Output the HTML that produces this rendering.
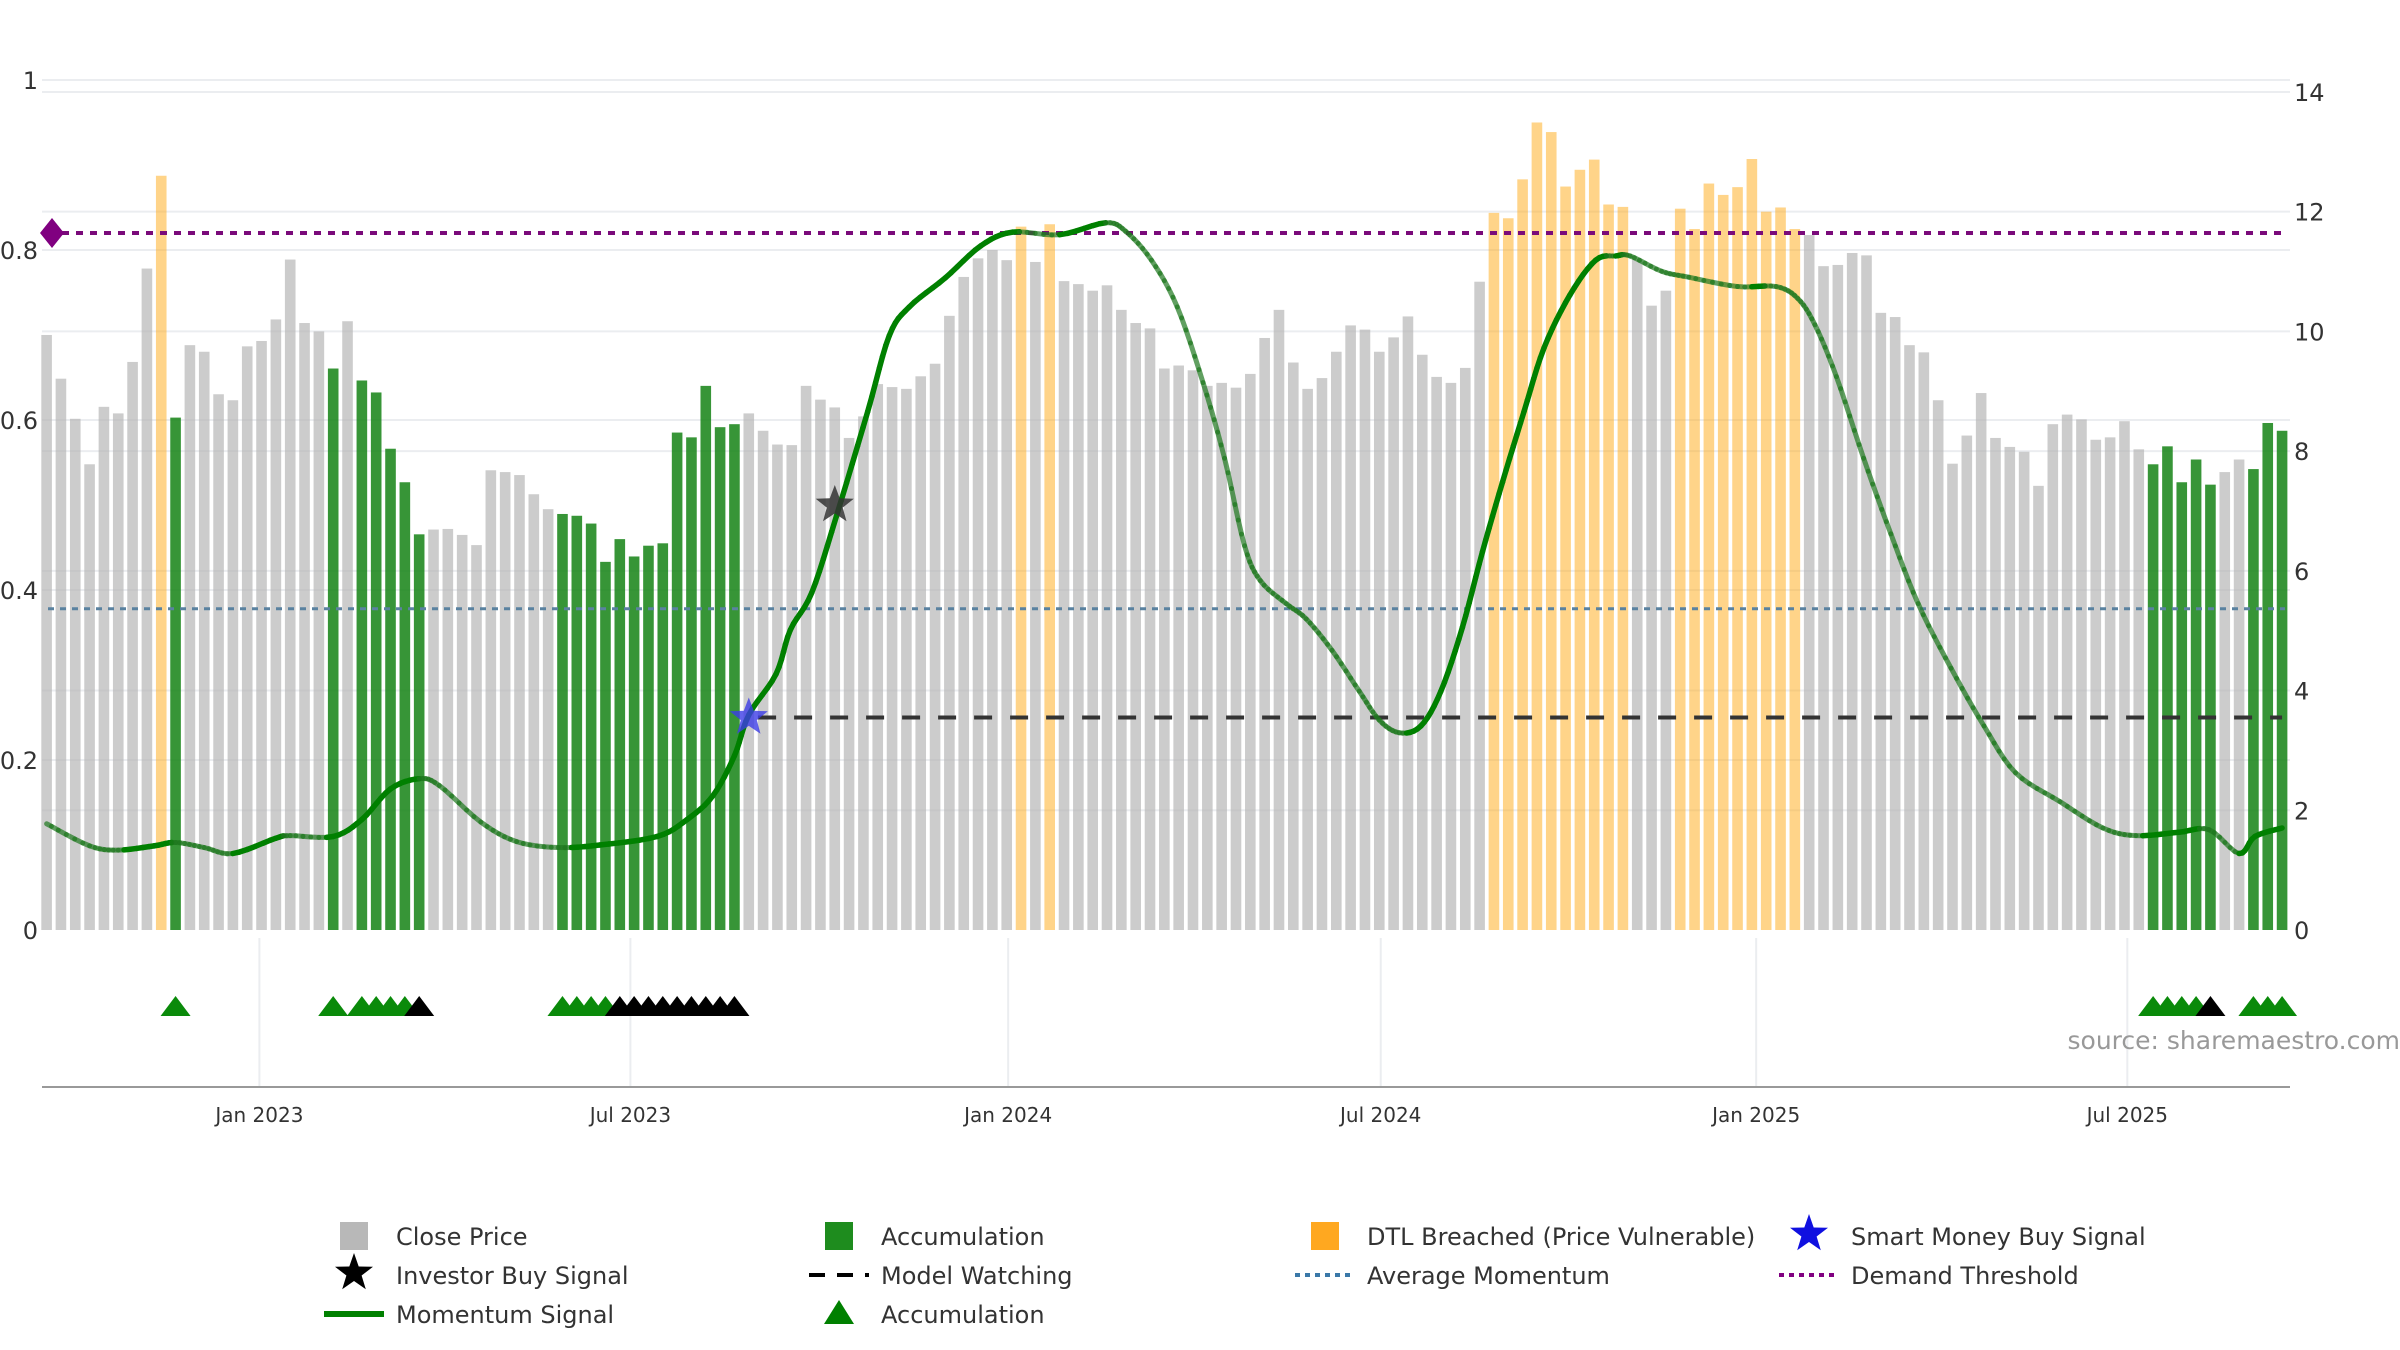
<!DOCTYPE html>
<html><head><meta charset="utf-8">
<style>
html,body{margin:0;padding:0;background:#fff;}
svg{display:block;font-family:"DejaVu Sans","Liberation Sans",sans-serif;}
</style></head>
<body>
<svg id="chart" width="2400" height="1350" viewBox="0 0 2400 1350" xmlns="http://www.w3.org/2000/svg">
<g id="grid"></g>
<g id="bars"></g>
<g id="lines"></g>
<g id="mom"></g>
<g id="marks"></g>
<g id="axes"></g>
<g id="lower"></g>
<text x="2400" y="1049" text-anchor="end" font-size="25" fill="#999">source: sharemaestro.com</text>
<g id="legend"></g>
</svg>
<script>
const closes=[9.94,9.21,8.54,7.78,8.74,8.63,9.49,11.05,12.6,8.56,
9.77,9.66,8.95,8.85,9.75,9.84,10.2,11.2,10.14,10.0,
9.38,10.17,9.18,8.98,8.04,7.48,6.61,6.69,6.70,6.6,
6.43,7.68,7.65,7.6,7.28,7.03,6.95,6.92,6.79,6.15,
6.53,6.24,6.42,6.46,8.31,8.23,9.09,8.4,8.45,8.63,
8.34,8.11,8.1,9.09,8.86,8.73,8.22,8.58,9.12,9.07,
9.04,9.25,9.46,10.26,10.91,11.22,11.36,11.19,11.75,11.16,
11.79,10.84,10.79,10.68,10.77,10.36,10.14,10.05,9.38,9.43,
9.35,9.09,9.14,9.06,9.29,9.89,10.36,9.48,9.04,9.22,
9.66,10.1,10.03,9.66,9.9,10.25,9.61,9.24,9.14,9.39,
10.83,11.98,11.89,12.54,13.49,13.33,12.42,12.7,12.87,12.12,
12.08,11.2,10.43,10.68,12.05,11.71,12.47,12.28,12.41,12.88,
12.0,12.07,11.71,11.61,11.09,11.11,11.31,11.27,10.31,10.24,
9.77,9.65,8.85,7.79,8.26,8.97,8.22,8.07,7.99,7.42,
8.45,8.61,8.53,8.19,8.23,8.5,8.03,7.78,8.08,7.48,
7.86,7.44,7.65,7.86,7.7,8.47,8.34];
const accumIdx=[9,20,22,23,24,25,26,36,37,38,39,40,41,42,43,44,45,46,47,48,147,148,149,150,151,154,155,156];
const dtlIdx=[8,68,70,101,102,103,104,105,106,107,108,109,110,114,115,116,117,118,119,120,121,122];
const momIdx=[0,3,5,7.5,9,11,13,16,17,20,22,24,26,27.4,30.3,32.8,35.7,38.6,42.6,44.7,46.5,48,49,50.9,51.9,53.4,55.1,57.3,58.8,60.2,62.7,65.2,67.4,70.7,73.9,75.3,77.1,78.9,80.7,82.2,83.6,84.7,86.5,87.9,89.7,91.6,93,94.4,95.9,97.3,98.8,100.2,101.6,103.1,104.5,106.3,108.1,109.5,110.5,112.7,114.6,118,120.7,122.2,123.4,124.9,126.8,128.7,130.6,132.9,135.2,137.4,140.5,143.5,145.8,148.8,150.9,153,154.1,156];
const momVal=[0.125,0.099,0.094,0.099,0.103,0.097,0.090,0.108,0.111,0.110,0.130,0.166,0.178,0.170,0.127,0.104,0.097,0.100,0.110,0.130,0.158,0.205,0.253,0.301,0.353,0.397,0.486,0.61,0.699,0.733,0.767,0.805,0.821,0.818,0.832,0.822,0.788,0.733,0.644,0.555,0.452,0.411,0.384,0.366,0.329,0.281,0.247,0.232,0.24,0.281,0.356,0.445,0.527,0.61,0.685,0.747,0.788,0.793,0.793,0.775,0.768,0.757,0.757,0.743,0.712,0.651,0.555,0.466,0.384,0.308,0.24,0.185,0.151,0.12,0.111,0.115,0.118,0.09,0.11,0.12];
const demandThreshold=0.82, avgMomentum=0.378, watchLevel=0.25;
const watchStart=50, watchEnd=156;
const smartIdx=[49], smartVal=[0.25];
const investorIdx=[55], investorVal=[0.5];
const greenTri=[9,20,22,23,24,25,36,37,38,39,147,148,149,150,154,155,156];
const blackTri=[26,40,41,42,43,44,45,46,47,48,151];
const leftTicks=[0,0.2,0.4,0.6,0.8,1];
const leftTickLabels=["0","0.2","0.4","0.6","0.8","1"];
const rightTicks=[0,2,4,6,8,10,12,14];
const dateTickIdx=[14.85,40.74,67.1,93.1,119.3,145.2];
const dateTickLabels=["Jan 2023","Jul 2023","Jan 2024","Jul 2024","Jan 2025","Jul 2025"];

const NS="http://www.w3.org/2000/svg";
const X=i=>46.6+i*14.33;
const YL=v=>930-850*v;
const YR=v=>930-v*59.86;
function mk(tag,attrs,parent){const e=document.createElementNS(NS,tag);for(const k in attrs)e.setAttribute(k,attrs[k]);document.getElementById(parent).appendChild(e);return e;}

// grid
leftTicks.forEach(t=>{if(t>0){const l=mk('line',{x1:42,x2:2290,y1:YL(t),y2:YL(t),stroke:'#ebedf0','stroke-width':2},'grid');

}});
rightTicks.forEach(t=>{if(t>0){const l=mk('line',{x1:42,x2:2290,y1:YR(t),y2:YR(t),stroke:'#ebedf0','stroke-width':2},'grid');

}});

// bars
closes.forEach((v,i)=>{
  let fill='rgba(180,180,180,0.68)',nm='close-price-bar';
  if(accumIdx.includes(i)){fill='rgba(20,130,20,0.85)';nm='accumulation-bar';}
  else if(dtlIdx.includes(i)){fill='rgba(255,170,20,0.5)';nm='dtl-breached-bar';}
  const r=mk('rect',{x:X(i)-5.3,y:YR(v),width:10.6,height:930-YR(v),fill:fill},'bars');
  
  
});

// reference lines
let l1=mk('line',{x1:48,x2:2285,y1:YL(demandThreshold),y2:YL(demandThreshold),stroke:'#7a0a7a','stroke-width':4,'stroke-dasharray':'7 7'},'lines');


let dm=mk('polygon',{points:`${52},${YL(demandThreshold)-15} ${64},${YL(demandThreshold)} ${52},${YL(demandThreshold)+15} ${40},${YL(demandThreshold)}`,fill:'#800080'},'lines');


let l2=mk('line',{x1:48,x2:2285,y1:YL(avgMomentum),y2:YL(avgMomentum),stroke:'#5a82a0','stroke-width':3,'stroke-dasharray':'6 6'},'lines');


let l3=mk('line',{x1:X(watchStart)-5,x2:X(watchEnd),y1:YL(watchLevel),y2:YL(watchLevel),stroke:'#333','stroke-width':4,'stroke-dasharray':'18 18'},'lines');



// momentum smooth line
const pts=momIdx.map((t,k)=>[X(t),YL(momVal[k])]);
const dense=[];
for(let k=0;k<pts.length-1;k++){
  const p0=pts[Math.max(k-1,0)],p1=pts[k],p2=pts[k+1],p3=pts[Math.min(k+2,pts.length-1)];
  for(let s=0;s<6;s++){const t=s/6,t2=t*t,t3=t2*t;
    dense.push([0.5*((2*p1[0])+(-p0[0]+p2[0])*t+(2*p0[0]-5*p1[0]+4*p2[0]-p3[0])*t2+(-p0[0]+3*p1[0]-3*p2[0]+p3[0])*t3),
                0.5*((2*p1[1])+(-p0[1]+p2[1])*t+(2*p0[1]-5*p1[1]+4*p2[1]-p3[1])*t2+(-p0[1]+3*p1[1]-3*p2[1]+p3[1])*t3)]);}
}
dense.push(pts[pts.length-1]);
for(let k=0;k<dense.length-1;k++){
  const rising=dense[k+1][1]<dense[k][1]-0.3;
  const s=mk('line',{x1:dense[k][0],y1:dense[k][1],x2:dense[k+1][0],y2:dense[k+1][1],stroke:rising?'#008000':'rgba(30,120,30,0.7)','stroke-width':rising?5.5:5,'stroke-linecap':'round'},'mom');
  
  
}

function star(cx,cy,R,fill,name){
  let p=[];for(let k=0;k<10;k++){const r=k%2?R*0.42:R;const a=-Math.PI/2+k*Math.PI/5;p.push((cx+r*Math.cos(a)).toFixed(1)+','+(cy+r*Math.sin(a)).toFixed(1));}
  const e=mk('polygon',{points:p.join(' '),fill:fill},'marks');
  return e;
}
smartIdx.forEach((t,k)=>{const e=star(X(t),YL(smartVal[k]),20,'rgba(60,60,230,0.8)');

});
investorIdx.forEach((t,k)=>{const e=star(X(t),YL(investorVal[k]),20,'rgba(50,50,50,0.85)');

});

// axes labels
leftTicks.forEach((t,k)=>{const e=mk('text',{x:38,y:YL(t)+9,'text-anchor':'end','font-size':24,fill:'#333'},'axes');e.textContent=leftTickLabels[k];

});
rightTicks.forEach(t=>{const e=mk('text',{x:2294,y:YR(t)+9,'font-size':24,fill:'#333'},'axes');e.textContent=String(t);

});

// lower panel
dateTickIdx.forEach((t,k)=>{
  const g=mk('line',{x1:X(t),x2:X(t),y1:938,y2:1086,stroke:'#ebedf0','stroke-width':2},'lower');
  
  
  const e=mk('text',{x:X(t),y:1122,'text-anchor':'middle','font-size':20,fill:'#333'},'lower');e.textContent=dateTickLabels[k];
  
  
});
const ax=mk('line',{x1:42,x2:2290,y1:1087,y2:1087,stroke:'#999','stroke-width':2},'lower');


function tri(t,fill){return mk('polygon',{points:`${X(t)},${996} ${X(t)-15},${1016} ${X(t)+15},${1016}`,fill:fill},'lower');}
greenTri.forEach(t=>{const e=tri(t,'#0a8a0a');

});
blackTri.forEach(t=>{const e=tri(t,'#000');

});

// legend
const L=document.getElementById('legend');
function ltext(x,y,s,name){const e=mk('text',{x:x,y:y+9,'font-size':24,fill:'#333'},'legend');e.textContent=s;

}
const r1=1236,r2=1275,r3=1314,c=[354,839,1325,1809],tx=[396,881,1367,1851];
let e;
e=mk('rect',{x:c[0]-14,y:r1-14,width:28,height:28,fill:'#b8b8b8'},'legend');
ltext(tx[0],r1,'Close Price','legend-close-price');
e=mk('rect',{x:c[1]-14,y:r1-14,width:28,height:28,fill:'#1e8c1e'},'legend');
ltext(tx[1],r1,'Accumulation','legend-accumulation');
e=mk('rect',{x:c[2]-14,y:r1-14,width:28,height:28,fill:'#ffa820'},'legend');
ltext(tx[2],r1,'DTL Breached (Price Vulnerable)','legend-dtl-breached');
function lstar(cx,cy,fill){let p=[];for(let k=0;k<10;k++){const r=k%2?8:20;const a=-Math.PI/2+k*Math.PI/5;p.push((cx+r*Math.cos(a)).toFixed(1)+','+(cy+r*Math.sin(a)).toFixed(1));}return mk('polygon',{points:p.join(' '),fill:fill},'legend');}
e=lstar(c[3],r1-2,'#1010e0');
ltext(tx[3],r1,'Smart Money Buy Signal','legend-smart-money');
e=lstar(c[0],r2-2,'#000');
ltext(tx[0],r2,'Investor Buy Signal','legend-investor-buy');
e=mk('line',{x1:c[1]-30,x2:c[1]+30,y1:r2,y2:r2,stroke:'#000','stroke-width':4,'stroke-dasharray':'16 12'},'legend');
ltext(tx[1],r2,'Model Watching','legend-model-watching');
e=mk('line',{x1:c[2]-30,x2:c[2]+30,y1:r2,y2:r2,stroke:'#3a78a8','stroke-width':4,'stroke-dasharray':'5 5'},'legend');
ltext(tx[2],r2,'Average Momentum','legend-average-momentum');
e=mk('line',{x1:c[3]-30,x2:c[3]+30,y1:r2,y2:r2,stroke:'#800080','stroke-width':4,'stroke-dasharray':'5 5'},'legend');
ltext(tx[3],r2,'Demand Threshold','legend-demand-threshold');
e=mk('line',{x1:c[0]-30,x2:c[0]+30,y1:r3,y2:r3,stroke:'#008000','stroke-width':6},'legend');
ltext(tx[0],r3,'Momentum Signal','legend-momentum-signal');
e=mk('polygon',{points:`${c[1]},${r3-14} ${c[1]-15},${r3+10} ${c[1]+15},${r3+10}`,fill:'#008000'},'legend');
ltext(tx[1],r3,'Accumulation','legend-accumulation-signal');
</script>
</body></html>
